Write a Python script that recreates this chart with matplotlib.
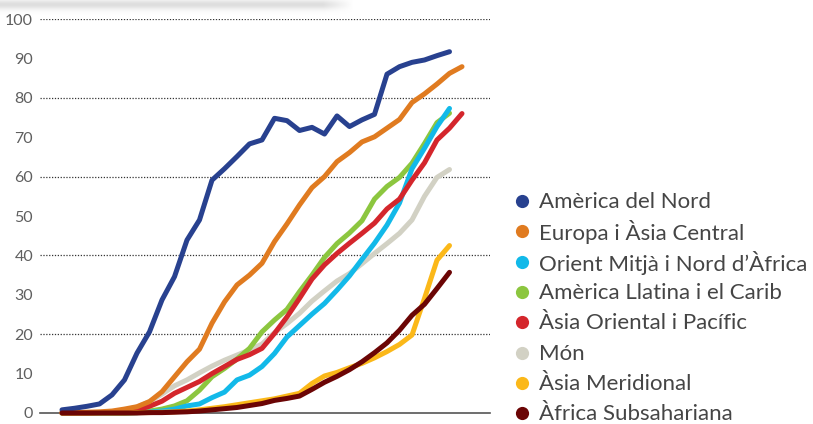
import numpy as np
import matplotlib
matplotlib.use("Agg")
import matplotlib.pyplot as plt

# dades: % d'usuaris d'internet per regió (llegit del gràfic)
nord_america = [0.8, 1.2, 1.7, 2.3, 4.6, 8.4, 15.2, 20.6, 28.7, 34.6, 43.9, 49.0,
                59.1, 62.0, 65.1, 68.3, 69.3, 74.8, 74.2, 71.7, 72.5, 70.8, 75.4,
                72.7, 74.4, 75.8, 86.0, 87.9, 89.0, 89.6, 90.7, 91.7]
europa_asia_central = [0.1, 0.1, 0.2, 0.3, 0.5, 1.0, 1.6, 2.9, 5.4, 9.2, 13.0, 16.2,
                       22.8, 28.2, 32.5, 35.0, 38.0, 43.5, 48.0, 52.8, 57.2, 60.0,
                       63.8, 66.1, 68.8, 70.1, 72.3, 74.5, 78.8, 81.0, 83.5, 86.2, 87.9]
orient_mitja = [0, 0, 0, 0, 0, 0, 0.1, 0.2, 0.5, 1.0, 1.8, 2.3, 3.9, 5.3, 8.4, 9.6,
                11.8, 15.1, 19.3, 22.2, 25.1, 27.8, 31.2, 34.8, 39.0, 43.1, 47.7,
                53.3, 62.0, 67.2, 72.7, 77.3]
america_llatina = [0, 0, 0, 0, 0, 0, 0.1, 0.5, 1.0, 1.8, 3.1, 5.8, 9.2, 11.3, 13.7,
                   16.4, 20.6, 23.6, 26.3, 30.8, 35.0, 39.5, 43.0, 45.7, 48.8, 54.3,
                   57.5, 59.8, 63.4, 68.4, 73.7, 76.1]
asia_oriental = [0, 0, 0, 0.1, 0.2, 0.4, 0.8, 1.7, 3.0, 5.0, 6.5, 8.0, 10.0, 11.8,
                 13.6, 14.8, 16.4, 20.2, 24.4, 29.1, 34.0, 37.6, 40.5, 43.1, 45.6,
                 48.2, 51.8, 54.3, 59.1, 63.5, 69.3, 72.3, 76.0]
mon = [0, 0, 0, 0.1, 0.3, 0.7, 1.5, 2.9, 4.8, 6.9, 8.4, 10.2, 11.9, 13.4, 14.7,
       16.0, 17.5, 20.4, 22.7, 25.3, 28.4, 31.0, 33.5, 35.4, 37.9, 40.5, 43.0,
       45.6, 49.0, 55.0, 59.8, 61.8]
asia_meridional = [0, 0, 0, 0, 0, 0, 0.1, 0.1, 0.2, 0.3, 0.5, 0.8, 1.2, 1.6, 2.1,
                   2.6, 3.1, 3.6, 4.3, 5.0, 7.5, 9.4, 10.3, 11.5, 12.6, 14.0, 15.6,
                   17.4, 19.8, 29.1, 38.8, 42.5]
africa_subsahariana = [0, 0, 0, 0, 0, 0, 0, 0.1, 0.1, 0.2, 0.3, 0.5, 0.8, 1.1, 1.4,
                       1.9, 2.4, 3.2, 3.7, 4.3, 6.0, 7.8, 9.3, 11.0, 13.0, 15.3,
                       17.8, 21.0, 24.8, 27.6, 31.6, 35.7]

noms = ["Amèrica del Nord", "Europa i Àsia Central", "Orient Mitjà i Nord d’Àfrica",
        "Amèrica Llatina i el Carib", "Àsia Oriental i Pacífic", "Món",
        "Àsia Meridional", "Àfrica Subsahariana"]
series = [nord_america, europa_asia_central, orient_mitja, america_llatina,
          asia_oriental, mon, asia_meridional, africa_subsahariana]
colors = ["#28418f", "#e07b20", "#12b9e9", "#8cc63f",
          "#d4262c", "#d2d1c4", "#fbb819", "#6b0505"]
# ordre de dibuix (de sota a dalt)
z_order = [5, 3, 2, 4, 6, 1, 0, 7]

any0 = 1990
yticks = list(range(0, 101, 10))

plt.rcParams['font.family'] = ['Lato', 'DejaVu Sans']

W, H = 813, 424
fig = plt.figure(figsize=(W / 100, H / 100), dpi=100)
ax = fig.add_axes([40 / W, (H - 413) / H, 450 / W, 394 / H])

for k in z_order:
    vals = series[k]
    anys = any0 + np.arange(len(vals))
    ax.plot(anys, vals, color=colors[k], lw=3.6, solid_capstyle='round',
            solid_joinstyle='round', clip_on=False, zorder=3 + z_order.index(k))

ax.set_xlim(any0 - 1.76, any0 + 34.24)
ax.set_ylim(0, 100)
ax.set_yticks(yticks)
ax.set_xticks([])
ax.tick_params(axis='y', length=0, pad=5, labelsize=11.5, labelcolor='#5f5f5f')
for s in ['top', 'right', 'left']:
    ax.spines[s].set_visible(False)
ax.spines['bottom'].set_color('#555555')
ax.spines['bottom'].set_linewidth(1.2)
for g in range(20, 101, 20):
    ax.axhline(g, color='#333333', lw=0.9, ls=(0, (1, 1.3)), zorder=1)

# llegenda
leg = fig.add_axes([0, 0, 1, 1])
leg.set_xlim(0, W)
leg.set_ylim(H, 0)
leg.axis('off')
for j, (nom, c) in enumerate(zip(noms, colors)):
    y = 201 + j * 30.3
    leg.plot([522], [y], marker='o', ms=9.5, color=c, mec='none')
    leg.text(539, y + 1, nom, fontsize=16, color='#454545',
             va='center', ha='left')

# ombra de l'element superior
sh = fig.add_axes([0, (H - 16) / H, 352 / W, 16 / H])
sh.axis('off')
yy = np.arange(16)[:, None]
xx = np.arange(352)[None, :]
alpha = 0.45 * np.exp(-((yy - 4) / 5.0) ** 2) * np.clip((352 - xx) / 30, 0, 1)
img = np.zeros((16, 352, 4))
img[..., :3] = 0.72
img[..., 3] = alpha
sh.imshow(img, aspect='auto', interpolation='bilinear')

fig.savefig('out.png', dpi=100)
